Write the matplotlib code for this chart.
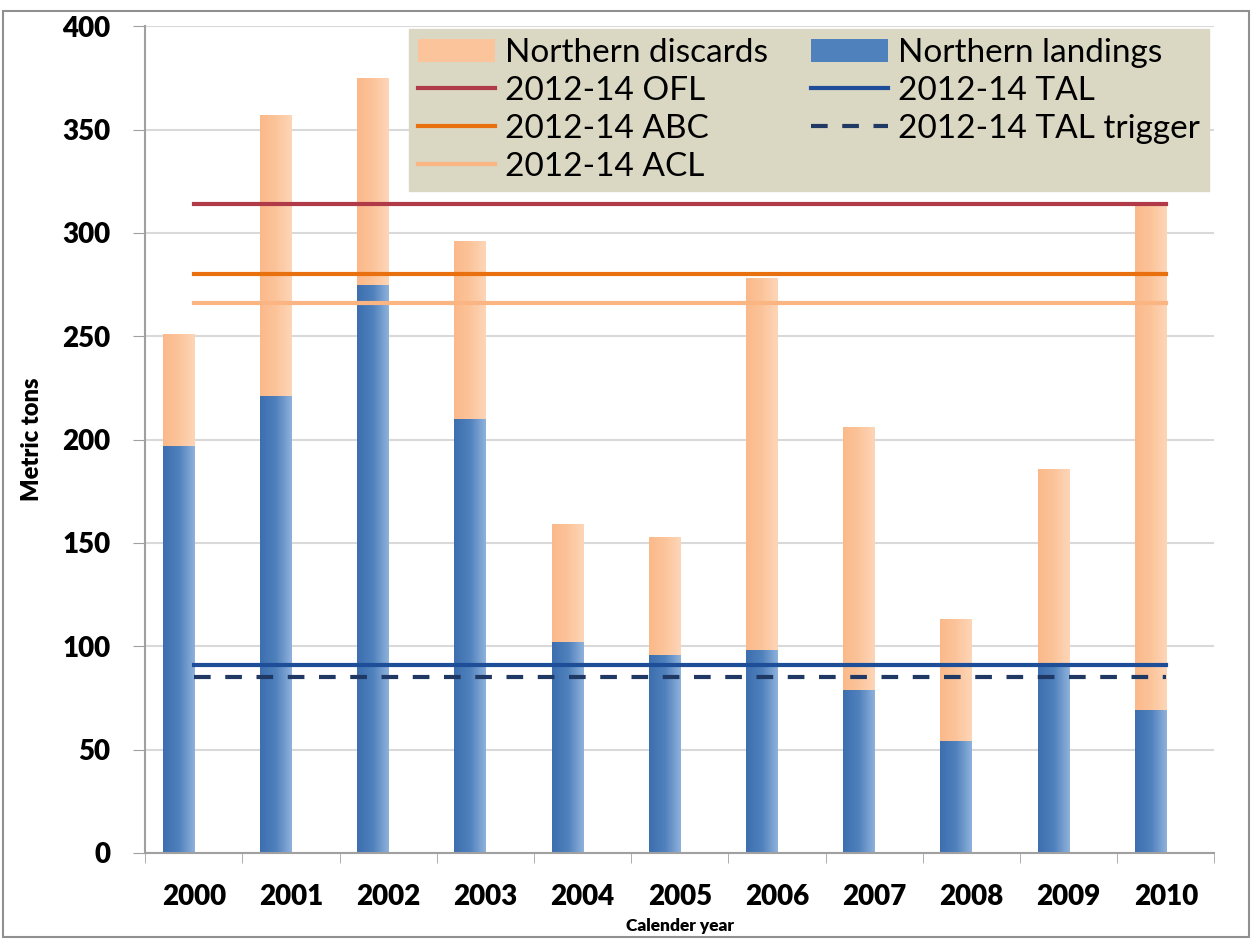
import numpy as np
import matplotlib
matplotlib.use('Agg')
import matplotlib.pyplot as plt
from matplotlib.colors import LinearSegmentedColormap
from matplotlib.patches import Rectangle

plt.rcParams['font.family'] = ['Lato', 'DejaVu Sans']

# === DATA ===
years = ['2000', '2001', '2002', '2003', '2004', '2005', '2006', '2007', '2008', '2009', '2010']
landings = [197, 221, 275, 210, 102, 96, 98, 79, 54, 90, 69]
totals = [251, 357, 375, 296, 159, 153, 278, 206, 113, 186, 314]
discards = [t - l for t, l in zip(totals, landings)]

ofl = 314
abc = 280
acl = 266
tal = 91
tal_trigger = 85

fig = plt.figure(figsize=(12.52, 9.40), dpi=100)
ax = fig.add_axes([0.116, 0.0926, 0.854, 0.8794])

x = np.arange(len(years))
w = 0.32
# bars sit left of the category centre (Excel cluster with an empty partner)
bx = x - w / 2

bl = ax.bar(bx, landings, width=w, color='#4f81bd', zorder=2, label='Northern landings')
bd = ax.bar(bx, discards, width=w, bottom=landings, color='#fcc49a', zorder=2, label='Northern discards')

# horizontal gradient over each bar, like the Excel fill
blue_cm = LinearSegmentedColormap.from_list('b', ['#3d6fb0', '#4f81bd', '#8fb1dc'])
peach_cm = LinearSegmentedColormap.from_list('p', ['#fbb98a', '#fcc49a', '#fdd6b8'])
grad = np.linspace(0, 1, 64).reshape(1, -1)
for patches, cm in ((bl, blue_cm), (bd, peach_cm)):
    for p in patches:
        x0, y0 = p.get_x(), p.get_y()
        im = ax.imshow(grad, cmap=cm, aspect='auto', zorder=2.1,
                       extent=[x0, x0 + p.get_width(), y0, y0 + p.get_height()])
        clip = Rectangle((x0, y0), p.get_width(), p.get_height(), transform=ax.transData)
        im.set_clip_path(clip)

# reference lines from first to last category centre
xs = [x[0], x[-1]]
ax.plot(xs, [ofl] * 2, color='#b03a48', lw=3, zorder=3, label='2012-14 OFL')
ax.plot(xs, [abc] * 2, color='#e8700f', lw=3, zorder=3, label='2012-14 ABC')
ax.plot(xs, [acl] * 2, color='#fbb583', lw=3, zorder=3, label='2012-14 ACL')
ax.plot(xs, [tal] * 2, color='#1f4e99', lw=3, zorder=3, label='2012-14 TAL')
ax.plot(xs, [tal_trigger] * 2, color='#1f3864', lw=3, ls=(0, (4, 3.5)), zorder=3,
        label='2012-14 TAL trigger')

ax.set_xlim(-0.5, len(years) - 0.5)
ax.set_ylim(0, 400)
ax.set_yticks(np.arange(0, 401, 50))
ax.set_xticks(x)
ax.set_xticklabels(years)
ax.set_xticks(np.arange(-0.5, len(years), 1), minor=True)
ax.tick_params(axis='x', which='major', length=0, pad=22, labelsize=20)
ax.tick_params(axis='x', which='minor', length=7, color='#a0a0a0')
ax.tick_params(axis='y', length=9, color='#a0a0a0', labelsize=20, pad=16)
for lab in ax.get_xticklabels() + ax.get_yticklabels():
    lab.set_fontweight('heavy')

ax.grid(axis='y', color='#d9d9d9', lw=1.5, zorder=0)
ax.set_axisbelow(True)
for s in ('top', 'right'):
    ax.spines[s].set_visible(False)
for s in ('left', 'bottom'):
    ax.spines[s].set_color('#a0a0a0')
    ax.spines[s].set_linewidth(1.5)

ax.set_ylabel('Metric tons', fontsize=17, fontweight='heavy', labelpad=14)
ax.set_xlabel('Calender year', fontsize=12.5, fontweight='heavy', labelpad=6)

h, l = ax.get_legend_handles_labels()
d = dict(zip(l, h))
order = ['Northern discards', '2012-14 OFL', '2012-14 ABC', '2012-14 ACL',
         'Northern landings', '2012-14 TAL', '2012-14 TAL trigger']
leg = ax.legend([d[k] for k in order], order, ncol=2, loc='upper right',
                bbox_to_anchor=(0.995, 0.997), fontsize=24, frameon=True, fancybox=False,
                facecolor='#dad7c3', edgecolor='#dad7c3', framealpha=1,
                handlelength=2.3, handletextpad=0.3, columnspacing=1.3,
                labelspacing=0.24, borderpad=0.28, borderaxespad=0.0)
leg.set_zorder(5)

# outer frame round the picture
fig.patches.append(Rectangle((0.002, 0.003), 0.996, 0.985, transform=fig.transFigure,
                             fill=False, edgecolor='#909090', lw=1.5))

plt.savefig('out.png', dpi=100)
plt.close()
